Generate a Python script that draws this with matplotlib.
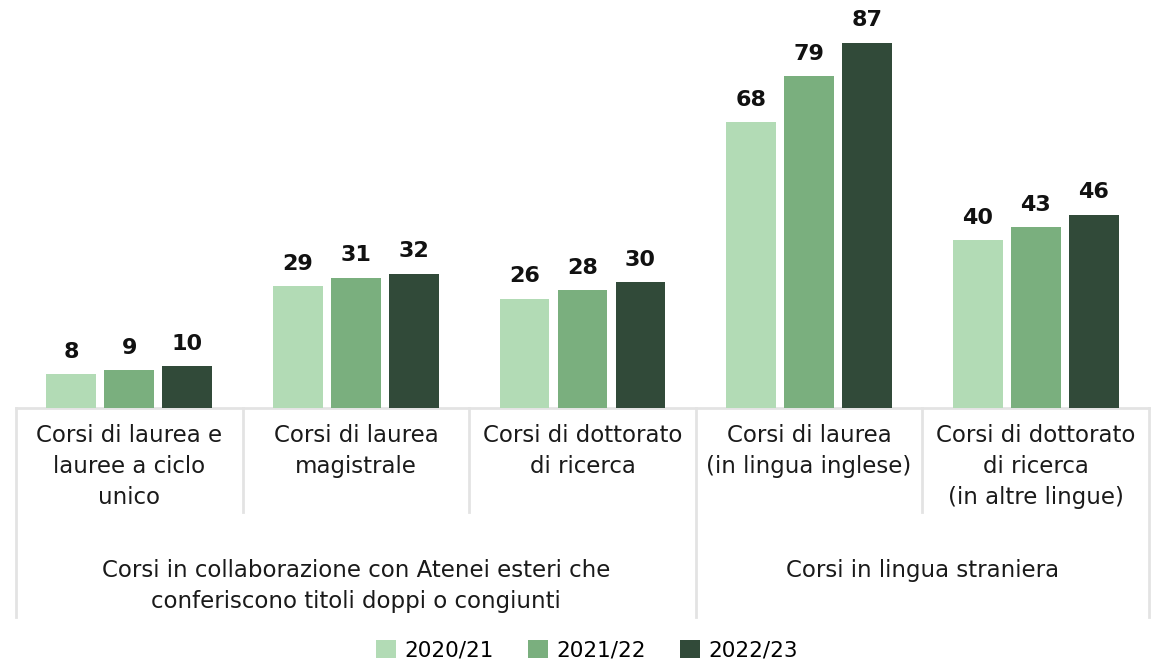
import numpy as np
import matplotlib.pyplot as plt

# data
categories = ["Corsi di laurea e\nlauree a ciclo\nunico",
              "Corsi di laurea\nmagistrale",
              "Corsi di dottorato\ndi ricerca",
              "Corsi di laurea\n(in lingua inglese)",
              "Corsi di dottorato\ndi ricerca\n(in altre lingue)"]
groups = ["Corsi in collaborazione con Atenei esteri che\nconferiscono titoli doppi o congiunti",
          "Corsi in lingua straniera"]
group_spans = [(0, 2), (3, 4)]
years = ["2020/21", "2021/22", "2022/23"]
v2020 = [8, 29, 26, 68, 40]
v2021 = [9, 31, 28, 79, 43]
v2022 = [10, 32, 30, 87, 46]
colors = ["#b2dbb5", "#7aaf7e", "#314a39"]

plt.rcParams['font.family'] = ['DejaVu Sans']

W, H = 1157, 663
fig = plt.figure(figsize=(W / 100, H / 100), dpi=100)
ax = fig.add_axes([16 / W, (H - 408) / H, (1149 - 16) / W, 408 / H])

x = np.arange(len(categories))
bw = 0.22
step = 0.256
for i, (vals, lab) in enumerate(zip([v2020, v2021, v2022], years)):
    bars = ax.bar(x + (i - 1) * step, vals, bw, color=colors[i], label=lab, zorder=2)
    for b, v in zip(bars, vals):
        ax.annotate(str(v), (b.get_x() + b.get_width() / 2, v), xytext=(0, 9),
                    textcoords='offset points', ha='center', va='bottom',
                    fontsize=16, fontweight='bold', color='#111111')

ax.set_xlim(-0.5, len(categories) - 0.5)
ax.set_ylim(0, 408 / 4.2)
ax.axis('off')

# multi-level category axis
tr = ax.get_xaxis_transform()
line_kw = dict(color='#e3e3e3', lw=2, transform=tr, clip_on=False, zorder=1)
ax.plot([-0.5, len(categories) - 0.5], [0, 0], **line_kw)
y_cat = -(512 - 408) / 408
y_grp = -(617 - 408) / 408
for k in range(len(categories) + 1):
    edge = k - 0.5
    is_group_edge = k in (0, len(categories)) or any(k == s[0] for s in group_spans)
    ax.plot([edge, edge], [0, y_grp if is_group_edge else y_cat], **line_kw)
for xi, c in zip(x, categories):
    ax.text(xi, -(424 - 408) / 408, c, transform=tr, ha='center', va='top',
            fontsize=16.5, linespacing=1.44, color='#1a1a1a')
for g, (a, b) in zip(groups, group_spans):
    ax.text((a + b) / 2, -(559 - 408) / 408, g, transform=tr, ha='center', va='top',
            fontsize=16.5, linespacing=1.44, color='#1a1a1a')

fig.legend(loc='lower center', bbox_to_anchor=(587 / W, -0.025), ncol=3, frameon=False,
           fontsize=15.5, handlelength=0.9, handleheight=0.9, handletextpad=0.4,
           columnspacing=1.6)

fig.savefig('out.png', dpi=100)
